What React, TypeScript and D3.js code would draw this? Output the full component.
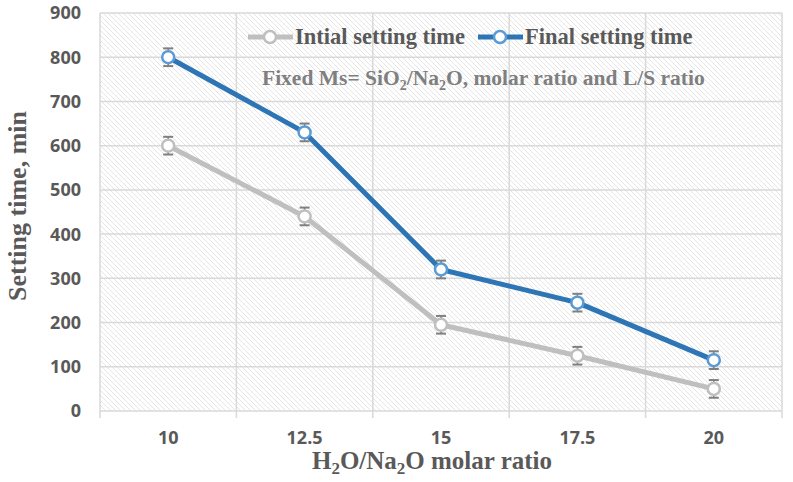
import React from "react";
import * as d3 from "d3";

const categories = ["10", "12.5", "15", "17.5", "20"];
const initialTime = [600, 440, 195, 125, 50];
const finalTime = [800, 630, 320, 245, 115];
const errorMargin = [20, 20, 20, 20, 20];
const yTicks = [0, 100, 200, 300, 400, 500, 600, 700, 800, 900];

const W = 793;
const H = 482;
const left = 100;
const right = 782;
const top = 13;
const bottom = 411;

export default function App() {
  const x = d3.scaleBand<string>().domain(categories).range([left, right]);
  const y = d3.scaleLinear().domain([0, 900]).range([bottom, top]);
  const cx = (c: string) => (x(c) as number) + x.bandwidth() / 2;
  const line = d3
    .line<number>()
    .x((_, i) => cx(categories[i]))
    .y((d) => y(d));

  const sans = "'Open Sans', 'DejaVu Sans', sans-serif";
  const serif = "'Liberation Serif', 'Times New Roman', serif";
  const textGray = "#595959";

  const series = [
    { name: "Intial setting time", values: initialTime, line: "#BFBFBF", marker: "#BFBFBF" },
    { name: "Final setting time", values: finalTime, line: "#2E75B6", marker: "#5B9BD5" },
  ];

  const boundaries = [...categories.map((c) => x(c) as number), right];

  return (
    <svg width={W} height={H} style={{ position: "absolute", left: 0, top: 0, background: "#fff" }}>
      <defs>
        <pattern id="hatch" width="5" height="5" patternUnits="userSpaceOnUse">
          <path d="M-1,-1 L6,6 M-1,4 L1,6 M4,-1 L6,1" stroke="#dedede" strokeWidth="0.8" />
        </pattern>
      </defs>
      <rect x={left} y={top} width={right - left} height={bottom - top} fill="url(#hatch)" />
      {yTicks.map((t) => (
        <line key={"h" + t} x1={left} x2={right} y1={y(t)} y2={y(t)} stroke="#d9d9d9" strokeWidth={1.5} />
      ))}
      {boundaries.map((b, i) => (
        <line key={"v" + i} x1={b} x2={b} y1={top} y2={bottom + 7} stroke="#d9d9d9" strokeWidth={1.5} />
      ))}
      {yTicks.map((t) => (
        <text key={"yl" + t} x={81} y={y(t)} dy="0.36em" textAnchor="end" fontFamily={sans} fontWeight={700} fontSize={18} fill={textGray}>
          {t}
        </text>
      ))}
      {categories.map((c) => (
        <text key={"xl" + c} x={cx(c)} y={444} textAnchor="middle" fontFamily={sans} fontWeight={700} fontSize={18} fill={textGray}>
          {c}
        </text>
      ))}
      <text transform="translate(26,206) rotate(-90)" textAnchor="middle" fontFamily={serif} fontWeight={700} fontSize={26} fill={textGray}>
        Setting time, min
      </text>
      <text x={432} y={469} textAnchor="middle" fontFamily={serif} fontWeight={700} fontSize={25} fill={textGray}>
        H<tspan dy="5" fontSize={17}>2</tspan>
        <tspan dy="-5">O/Na</tspan>
        <tspan dy="5" fontSize={17}>2</tspan>
        <tspan dy="-5">O molar ratio</tspan>
      </text>
      <text x={262} y={85} fontFamily={serif} fontWeight={700} fontSize={21.5} fill="#7f7f7f">
        Fixed Ms= SiO<tspan dy="5" fontSize={14}>2</tspan>
        <tspan dy="-5">/Na</tspan>
        <tspan dy="5" fontSize={14}>2</tspan>
        <tspan dy="-5">O, molar ratio and L/S ratio</tspan>
      </text>
      {series.map((s) => (
        <g key={s.name}>
          <path d={line(s.values) || ""} fill="none" stroke={s.line} strokeWidth={5} strokeLinejoin="round" />
          {s.values.map((v, i) => {
            const px = cx(categories[i]);
            const e = errorMargin[i];
            return (
              <g key={i}>
                <line x1={px} x2={px} y1={y(v + e)} y2={y(v - e)} stroke="#7f7f7f" strokeWidth={1.5} />
                <line x1={px - 5} x2={px + 5} y1={y(v + e)} y2={y(v + e)} stroke="#7f7f7f" strokeWidth={2} />
                <line x1={px - 5} x2={px + 5} y1={y(v - e)} y2={y(v - e)} stroke="#7f7f7f" strokeWidth={2} />
              </g>
            );
          })}
          {s.values.map((v, i) => (
            <circle key={"m" + i} cx={cx(categories[i])} cy={y(v)} r={6} fill="#fff" stroke={s.marker} strokeWidth={2.5} />
          ))}
        </g>
      ))}
      {series.map((s, i) => {
        const lx = i === 0 ? 248 : 478;
        return (
          <g key={"lg" + i}>
            <line x1={lx} x2={lx + 45} y1={37} y2={37} stroke={s.line} strokeWidth={5} />
            <circle cx={lx + 22} cy={37} r={6} fill="#fff" stroke={s.marker} strokeWidth={2.5} />
            <text x={lx + 47} y={44} fontFamily={serif} fontWeight={700} fontSize={22.5} fill={textGray}>
              {s.name}
            </text>
          </g>
        );
      })}
    </svg>
  );
}
